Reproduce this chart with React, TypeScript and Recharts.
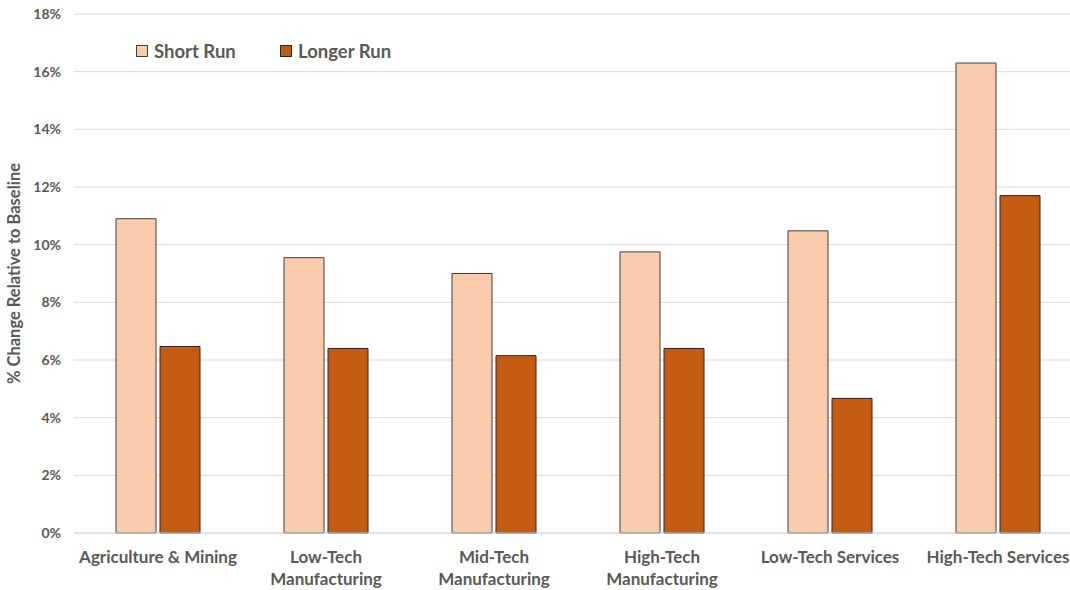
import React from 'react';
import { BarChart, Bar, XAxis, YAxis, CartesianGrid } from 'recharts';

const categories = [
  'Agriculture & Mining',
  'Low-Tech\nManufacturing',
  'Mid-Tech\nManufacturing',
  'High-Tech\nManufacturing',
  'Low-Tech Services',
  'High-Tech Services',
];
const shortRun = [10.9, 9.55, 9.0, 9.75, 10.48, 16.3];
const longerRun = [6.47, 6.4, 6.15, 6.4, 4.67, 11.7];
const yTicks = [0, 2, 4, 6, 8, 10, 12, 14, 16, 18];

const FONT = 'Lato, "Open Sans", sans-serif';
const TEXT = '#595959';

const data = categories.map((c, i) => ({
  name: c,
  shortRun: shortRun[i],
  longerRun: longerRun[i],
}));

const legendItems = [
  { label: 'Short Run', fill: '#F8CBAD', stroke: '#404040', left: 136 },
  { label: 'Longer Run', fill: '#C55A11', stroke: '#262626', left: 280 },
];

function CategoryTick(props: any) {
  const { x, y, payload } = props;
  const lines = String(payload.value).split('\n');
  return (
    <text x={x} y={y + 22} textAnchor="middle" fill={TEXT} fontFamily={FONT} fontWeight={700} fontSize={17}>
      {lines.map((l, i) => (
        <tspan key={i} x={x} dy={i === 0 ? 0 : 22}>{l}</tspan>
      ))}
    </text>
  );
}

export default function App() {
  return (
    <div style={{ position: 'absolute', left: 0, top: 0, width: 1070, height: 590, overflow: 'hidden', background: '#fff' }}>
      <BarChart
        width={1070}
        height={590}
        data={data}
        margin={{ top: 14, right: -12, left: 0, bottom: 0 }}
        barGap={4}
        barCategoryGap="25%"
      >
        <CartesianGrid vertical={false} stroke="#d9d9d9" />
        <XAxis
          dataKey="name"
          height={57}
          interval={0}
          tick={<CategoryTick />}
          tickLine={false}
          axisLine={{ stroke: '#d9d9d9' }}
        />
        <YAxis
          width={74}
          domain={[0, 18]}
          ticks={yTicks}
          tickFormatter={(v) => `${v}%`}
          tick={{ fill: TEXT, fontFamily: FONT, fontWeight: 700, fontSize: 14, dx: -5 }}
          tickLine={false}
          axisLine={false}
          label={{
            value: '% Change Relative to Baseline',
            angle: -90,
            position: 'insideLeft',
            offset: 14,
            style: { textAnchor: 'middle', fill: TEXT, fontFamily: FONT, fontWeight: 700, fontSize: 16.5 },
          }}
        />
        <Bar dataKey="shortRun" name="Short Run" fill="#F8CBAD" stroke="#404040" strokeWidth={1} isAnimationActive={false} />
        <Bar dataKey="longerRun" name="Longer Run" fill="#C55A11" stroke="#262626" strokeWidth={1} isAnimationActive={false} />
      </BarChart>
      {legendItems.map((it) => (
        <div
          key={it.label}
          style={{
            position: 'absolute',
            left: it.left,
            top: 40,
            height: 22,
            display: 'flex',
            alignItems: 'center',
            fontFamily: FONT,
            fontWeight: 700,
            fontSize: 18.5,
            color: TEXT,
            whiteSpace: 'nowrap',
          }}
        >
          <span style={{ display: 'inline-block', width: 10, height: 10, background: it.fill, border: `1px solid ${it.stroke}`, marginRight: 6 }} />
          {it.label}
        </div>
      ))}
    </div>
  );
}
